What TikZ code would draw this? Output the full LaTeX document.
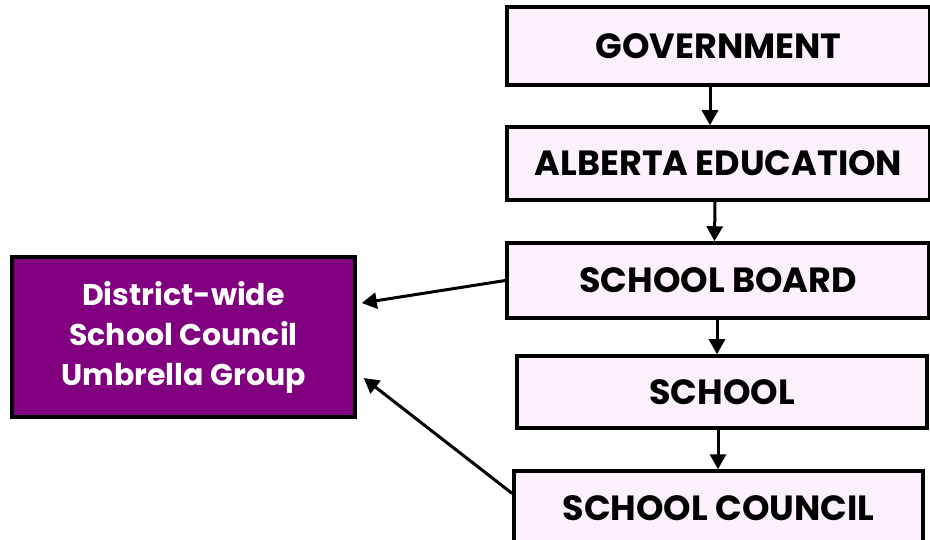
\documentclass[tikz,border=0pt]{standalone}
\usepackage{fontspec}
\setmainfont{Poppins}
\usetikzlibrary{arrows.meta}

\definecolor{boxpink}{HTML}{FCF0FC}
\definecolor{umbrellapurple}{HTML}{800080}

\begin{document}
\begin{tikzpicture}[x=1pt, y=1pt,
    level/.style={draw, line width=3.5pt, fill=boxpink, inner sep=0pt,
        font=\bfseries\fontsize{35}{35}\selectfont},
    link/.style={line width=3pt, -{Triangle[length=15pt,width=16pt]}}]
    \useasboundingbox (0, 0) rectangle (930, 539);
    \clip (0, 0) rectangle (930, 539);

    \node[level, minimum width=423, minimum height=78] (gov) at (718.5, 493) {GOVERNMENT};
    \node[level, minimum width=423, minimum height=73] (alberta) at (718.5, 375.5) {ALBERTA EDUCATION};
    \node[level, minimum width=422, minimum height=75] (board) at (718, 258.5) {SCHOOL BOARD};
    \node[level, minimum width=410, minimum height=72] (school) at (722, 147) {SCHOOL};
    \node[level, minimum width=409, minimum height=75] (council) at (718.5, 30.5) {SCHOOL COUNCIL};

    \node[draw, line width=3.5pt, fill=umbrellapurple, text=white, inner sep=0pt,
        minimum width=343, minimum height=160, align=center,
        font=\bfseries\fontsize{30}{40}\selectfont] (umbrella) at (183.5, 202)
        {District-wide\\School Council\\Umbrella Group};

    \draw[link] ([xshift=-8.5]gov.south) -- ([xshift=-8.5]alberta.north);
    \draw[link] ([xshift=-3.5]alberta.south) -- ([xshift=-3.5]board.north);
    \draw[link] ([xshift=-1]board.south) -- ([xshift=-1]board.south |- school.north);
    \draw[link] ([xshift=-4]school.south) -- ([xshift=-4]school.south |- council.north);

    \draw[link] (board.west) -- ([xshift=5, yshift=34]umbrella.east);
    \draw[link] ([yshift=15]council.west) -- ([xshift=7, yshift=-41]umbrella.east);
\end{tikzpicture}
\end{document}
